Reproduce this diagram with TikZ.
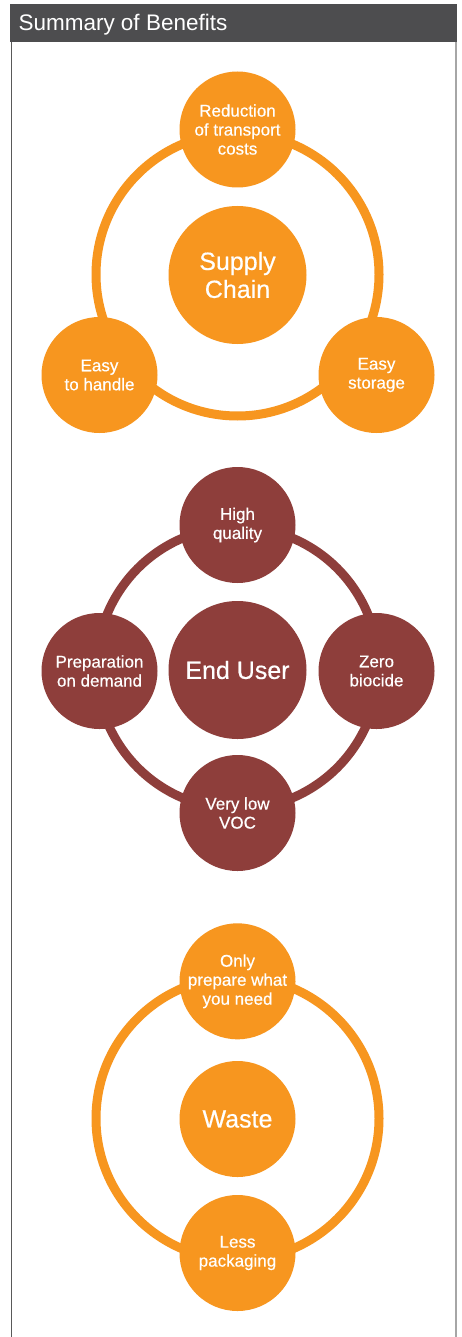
\documentclass[tikz,border=0pt]{standalone}
\usepackage{fontspec}
\setmainfont{Liberation Sans}
\newfontfamily\medfont{Liberation Sans}[FakeBold=0.45]
\definecolor{orng}{HTML}{F7961F}
\definecolor{maroon}{HTML}{8E3E3B}
\definecolor{hdr}{HTML}{4D4D4F}
\begin{document}
\begin{tikzpicture}[x=1pt,y=-1pt,
  small/.style={circle,inner sep=0pt,minimum size=116pt,text=white,align=center,font=\medfont\fontsize{17}{19}\selectfont},
  big/.style={circle,inner sep=0pt,minimum size=138pt,text=white,align=center,font=\medfont\fontsize{25}{28}\selectfont},
  ringline/.style={line width=9pt}]
\useasboundingbox (0,0) rectangle (461,1337);
% frame
\fill[white] (0,0) rectangle (461,1337);
\draw[line width=1.2pt,color=black!65] (11.5,41.7) -- (11.5,1337);
\draw[line width=1.5pt,color=black!35] (456,41.7) -- (456,1337);
\fill[hdr] (10.3,4) rectangle (456.7,41.7);
\node[anchor=base west,text=white,inner sep=0pt,font=\fontsize{22.5}{26}\selectfont] (title) at (18.3,31) {Summary of Benefits};

% Section 1: Supply Chain
\draw[ringline,orng] (237.5,274.5) circle[radius=141.5];
\node[big,fill=orng] (supply) at (237.5,275) {Supply\\Chain};
\node[small,fill=orng] (transport) at (237.5,129.5) {Reduction\\of transport\\costs};
\node[small,fill=orng] (handle) at (99.5,375) {Easy\\to handle};
\node[small,fill=orng] (storage) at (376.5,375) {Easy\\storage};

% Section 2: End User
\draw[ringline,maroon] (237.5,668) circle[radius=141];
\node[big,fill=maroon] (enduser) at (237.5,670) {End User};
\node[small,fill=maroon] (quality) at (237.5,525) {High\\quality};
\node[small,fill=maroon] (voc) at (237.5,813) {Very low\\VOC};
\node[small,fill=maroon] (prep) at (99.5,671) {Preparation\\on demand};
\node[small,fill=maroon] (biocide) at (376.5,671) {Zero\\biocide};

% Section 3: Waste
\draw[ringline,orng] (237.5,1118.5) circle[radius=141.5];
\node[small,fill=orng,font=\medfont\fontsize{25}{28}\selectfont] (waste) at (237.5,1119) {Waste};
\node[small,fill=orng] (need) at (237.5,981.3) {Only\\prepare what\\you need};
\node[small,fill=orng] (pack) at (237.5,1253) {Less\\packaging};
\end{tikzpicture}
\end{document}
